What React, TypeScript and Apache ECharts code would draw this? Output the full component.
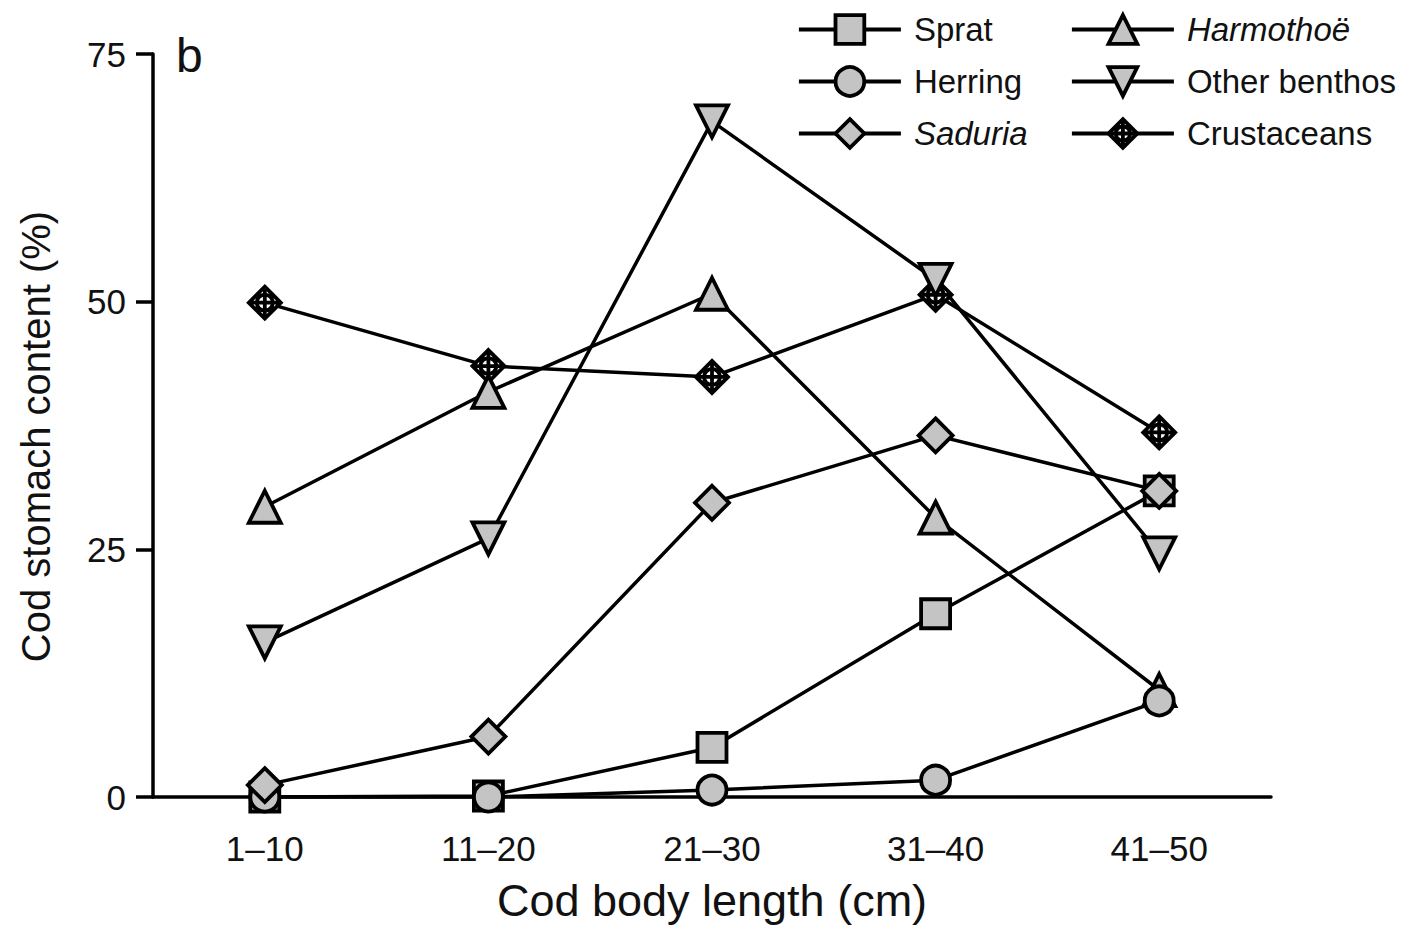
import React, { useEffect, useRef } from "react";
import * as echarts from "echarts";

const categories = ["1–10", "11–20", "21–30", "31–40", "41–50"];
const sprat = [0, 0.1, 5.0, 18.5, 30.9];
const herring = [0, 0, 0.7, 1.7, 9.7];
const saduria = [1.2, 6.1, 29.7, 36.5, 30.9];
const harmothoe = [29.3, 40.9, 50.8, 28.2, 10.8];
const otherBenthos = [15.6, 26.1, 68.2, 52.2, 24.6];
const crustaceans = [49.9, 43.5, 42.4, 50.7, 36.8];
const yTicks = [0, 25, 50, 75];

const FONT = "'Liberation Sans', Arial, Helvetica, sans-serif";
const FILL = "#c4c4c4";
const INV_TRI = "path://M0,0 L20,0 L10,18 Z";
const CRUST = "path://M10,0 L20,10 L10,20 L0,10 Z M15,10 A5,5 0 1 1 5,10 A5,5 0 1 1 15,10 Z M10,0 L10,20 M0,10 L20,10";

export default function App() {
  const ref = useRef<HTMLDivElement>(null);
  useEffect(() => {
    const chart = echarts.init(ref.current!, null, { renderer: "svg" });
    const mk = (name: string, data: number[], symbol: string, size: number, fill = FILL) => ({
      name,
      type: "line",
      data,
      symbol,
      symbolSize: size,
      showAllSymbol: true,
      lineStyle: { color: "#000", width: 3.5 },
      itemStyle: { color: fill, borderColor: "#000", borderWidth: 3.8 },
      emphasis: { disabled: true },
      z: 3,
    });
    const italic = new Set(["Saduria", "Harmothoë"]);
    const legendBase = {
      orient: "vertical",
      padding: 0,
      itemWidth: 102,
      itemHeight: 36,
      itemGap: 19,
      lineStyle: { color: "#000", width: 3.8 },
      itemStyle: { borderColor: "#000", borderWidth: 3.8 },
      textStyle: {
        fontFamily: FONT,
        fontSize: 33,
        color: "#111",
        rich: {
          n: { fontFamily: FONT, fontSize: 33, color: "#111", padding: [0, 0, 0, 8] },
          i: { fontFamily: FONT, fontSize: 33, fontStyle: "italic", color: "#111", padding: [0, 0, 0, 8] },
        },
      },
      formatter: (n: string) => (italic.has(n) ? `{i|${n}}` : `{n|${n}}`),
      selectedMode: false,
    };
    chart.setOption({
      animation: false,
      grid: { left: 153, right: 130, top: 54, bottom: 129, containLabel: false, outerBoundsMode: "none" },
      graphic: [
        {
          type: "text",
          x: 176,
          y: 55,
          style: { text: "b", fontFamily: FONT, fontSize: 48, fill: "#111", verticalAlign: "middle" },
        },
      ],
      legend: [
        { ...legendBase, left: 797, top: 13, data: ["Sprat", "Herring", "Saduria"] },
        { ...legendBase, left: 1070, top: 13, data: ["Harmothoë", "Other benthos", "Crustaceans"] },
      ],
      xAxis: {
        type: "category",
        data: categories,
        boundaryGap: true,
        name: "Cod body length (cm)",
        nameLocation: "middle",
        nameGap: 81,
        nameTextStyle: { fontFamily: FONT, fontSize: 45, color: "#111" },
        axisLine: { lineStyle: { color: "#000", width: 3.5 } },
        axisTick: { alignWithLabel: true, length: 18, lineStyle: { color: "#000", width: 3.5 } },
        axisLabel: { margin: 34, fontFamily: FONT, fontSize: 35, color: "#111" },
        splitLine: { show: false },
      },
      yAxis: {
        type: "value",
        min: 0,
        max: 75,
        interval: 25,
        name: "Cod stomach content (%)",
        nameLocation: "middle",
        nameGap: 97,
        nameTextStyle: { fontFamily: FONT, fontSize: 40, color: "#111", padding: [0, 22, 0, 0] },
        axisLine: { show: true, lineStyle: { color: "#000", width: 3.5 } },
        axisTick: { show: true, length: 17, lineStyle: { color: "#000", width: 3.5 } },
        axisLabel: {
          margin: 27,
          fontFamily: FONT,
          fontSize: 35,
          color: "#111",
          formatter: (v: number) => (yTicks.includes(v) ? String(v) : ""),
        },
        splitLine: { show: false },
      },
      series: [
        mk("Crustaceans", crustaceans, CRUST, 32, "#fff"),
        mk("Other benthos", otherBenthos, INV_TRI, 32),
        mk("Harmothoë", harmothoe, "triangle", 32),
        mk("Sprat", sprat, "rect", 29),
        mk("Herring", herring, "circle", 29),
        mk("Saduria", saduria, "diamond", 34),
      ],
    });
    return () => chart.dispose();
  }, []);
  return (
    <div
      ref={ref}
      style={{ position: "absolute", left: 0, top: 0, width: 1401, height: 926 }}
    />
  );
}
